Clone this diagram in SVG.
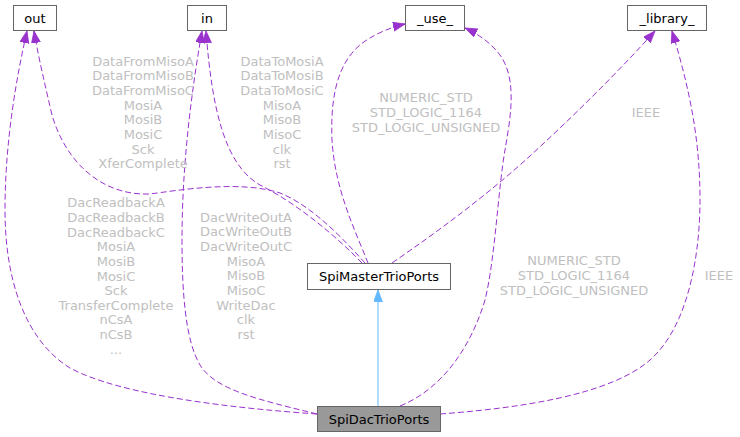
<svg xmlns="http://www.w3.org/2000/svg" width="740" height="437" viewBox="0 0 740 437">
<style>
.node rect{fill:#ffffff;stroke:#666666;stroke-width:1}
.node text{font-family:"DejaVu Sans","Liberation Sans",sans-serif;font-size:13px;fill:#000000;text-anchor:middle}
.e{fill:none;stroke:#9a32cd;stroke-width:1;stroke-dasharray:6,3}
.lbl{font-family:"DejaVu Sans","Liberation Sans",sans-serif;font-size:13px;fill:#c0c0c0;text-anchor:middle}
</style>
<defs>
<marker id="ap" markerUnits="userSpaceOnUse" markerWidth="13" markerHeight="10" refX="12" refY="4.5" orient="auto"><path d="M0,0 L12,4.5 L0,9 z" fill="#9a32cd" stroke="#9a32cd" stroke-width="0.8"/></marker>
<marker id="ab" markerUnits="userSpaceOnUse" markerWidth="13" markerHeight="10" refX="12" refY="4.5" orient="auto"><path d="M0,0 L12,4.5 L0,9 z" fill="#63b8ff" stroke="#63b8ff" stroke-width="0.8"/></marker>
</defs>
<g id="connectors">
<path class="e" marker-end="url(#ap)" d="M317,414 C 230,408 120,395 70,368 C 25,340 5,280 5,210 C 5,140 17,75 27,31"/>
<path class="e" marker-end="url(#ap)" d="M365,263 C 340,235 310,205 280,193 C 240,180 180,190 150,194 C 100,196 65,160 52,115 C 45,85 38,55 34,31"/>
<path class="e" marker-end="url(#ap)" d="M317,414 C 260,400 215,390 200,365 C 185,340 182,290 182,240 C 182,170 190,100 202,31"/>
<path class="e" marker-end="url(#ap)" d="M362,263 C 340,240 300,205 260,185 C 225,165 212,110 206,31"/>
<path class="e" marker-end="url(#ap)" d="M368,263 C 355,230 335,190 332,140 C 330,90 340,55 370,38 C 380,32 392,27 405,24"/>
<path class="e" marker-end="url(#ap)" d="M400,406 C 440,390 470,350 485,300 C 495,260 498,190 505,150 C 510,120 518,80 500,55 C 490,42 478,34 465,28"/>
<path class="e" marker-end="url(#ap)" d="M392,263 C 440,230 480,200 520,165 C 570,120 620,70 655,31"/>
<path class="e" marker-end="url(#ap)" d="M440,414 C 520,408 610,395 650,360 C 690,325 700,250 700,200 C 700,140 690,90 672,31"/>
<path fill="none" stroke="#63b8ff" stroke-width="1" marker-end="url(#ab)" d="M378,406 L378,290"/>
</g>
<g id="labels">
<text class="lbl" x="143" y="65.7">DataFromMisoA</text>
<text class="lbl" x="143" y="80.3">DataFromMisoB</text>
<text class="lbl" x="143" y="95">DataFromMisoC</text>
<text class="lbl" x="143" y="109.6">MosiA</text>
<text class="lbl" x="143" y="124.3">MosiB</text>
<text class="lbl" x="143" y="138.9">MosiC</text>
<text class="lbl" x="143" y="153.5">Sck</text>
<text class="lbl" x="143" y="168.2">XferComplete</text>
<text class="lbl" x="282" y="65.7">DataToMosiA</text>
<text class="lbl" x="282" y="80.3">DataToMosiB</text>
<text class="lbl" x="282" y="95">DataToMosiC</text>
<text class="lbl" x="282" y="109.6">MisoA</text>
<text class="lbl" x="282" y="124.3">MisoB</text>
<text class="lbl" x="282" y="138.9">MisoC</text>
<text class="lbl" x="282" y="153.5">clk</text>
<text class="lbl" x="282" y="168.2">rst</text>
<text class="lbl" x="426" y="102.2">NUMERIC_STD</text>
<text class="lbl" x="426" y="116.8">STD_LOGIC_1164</text>
<text class="lbl" x="426" y="131.5">STD_LOGIC_UNSIGNED</text>
<text class="lbl" x="646" y="117.2">IEEE</text>
<text class="lbl" x="116" y="207.2">DacReadbackA</text>
<text class="lbl" x="116" y="221.9">DacReadbackB</text>
<text class="lbl" x="116" y="236.5">DacReadbackC</text>
<text class="lbl" x="116" y="251.2">MosiA</text>
<text class="lbl" x="116" y="265.8">MosiB</text>
<text class="lbl" x="116" y="280.5">MosiC</text>
<text class="lbl" x="116" y="295.1">Sck</text>
<text class="lbl" x="116" y="309.8">TransferComplete</text>
<text class="lbl" x="116" y="324.4">nCsA</text>
<text class="lbl" x="116" y="339.1">nCsB</text>
<text class="lbl" x="116" y="353.7">...</text>
<text class="lbl" x="246" y="221.7">DacWriteOutA</text>
<text class="lbl" x="246" y="236.3">DacWriteOutB</text>
<text class="lbl" x="246" y="251">DacWriteOutC</text>
<text class="lbl" x="246" y="265.6">MisoA</text>
<text class="lbl" x="246" y="280.3">MisoB</text>
<text class="lbl" x="246" y="294.9">MisoC</text>
<text class="lbl" x="246" y="309.6">WriteDac</text>
<text class="lbl" x="246" y="324.2">clk</text>
<text class="lbl" x="246" y="338.9">rst</text>
<text class="lbl" x="574" y="265.2">NUMERIC_STD</text>
<text class="lbl" x="574" y="279.8">STD_LOGIC_1164</text>
<text class="lbl" x="574" y="294.5">STD_LOGIC_UNSIGNED</text>
<text class="lbl" x="719" y="280.2">IEEE</text>
</g>
<g id="node-out" class="node"><rect x="13.5" y="5.5" width="43" height="25"/><text x="35" y="22.5">out</text></g>
<g id="node-in" class="node"><rect x="187.5" y="5.5" width="39" height="25"/><text x="207" y="22.5">in</text></g>
<g id="node-use" class="node"><rect x="405.5" y="5.5" width="59" height="25"/><text x="435" y="22.5">_use_</text></g>
<g id="node-library" class="node"><rect x="627.5" y="5.5" width="79" height="25"/><text x="667" y="22.5">_library_</text></g>
<g id="node-SpiMasterTrioPorts" class="node"><rect x="307.5" y="263.5" width="143" height="26"/><text x="379" y="281">SpiMasterTrioPorts</text></g>
<g id="node-SpiDacTrioPorts" class="node"><rect x="317.5" y="406.5" width="123" height="25" style="fill:#999999"/><text x="379" y="423.5">SpiDacTrioPorts</text></g>
</svg>
